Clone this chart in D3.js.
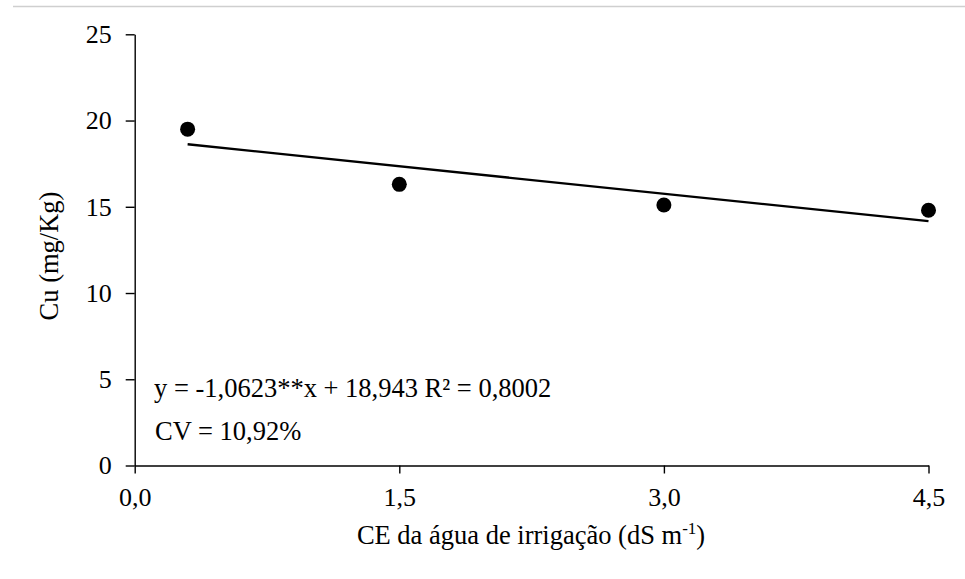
<!DOCTYPE html>
<html><head><meta charset="utf-8">
<script src="https://cdn.jsdelivr.net/npm/d3@7"></script>
<style>body{margin:0;background:#fff}svg{display:block}</style>
</head><body>
<svg id="c" width="965" height="579"></svg>
<script>
const xValues = [0.3, 1.5, 3.0, 4.5];
const cuValues = [19.5, 16.3, 15.1, 14.8];
const xTicks = [0, 1.5, 3.0, 4.5];
const yTicks = [0, 5, 10, 15, 20, 25];
const slope = -1.0623, intercept = 18.943;
const eqText = "y = -1,0623**x + 18,943 R² = 0,8002";
const cvText = "CV = 10,92%";
const FONT = "Liberation Serif";

const svg = d3.select("#c");
svg.append("line").attr("x1",13).attr("x2",965).attr("y1",6.5).attr("y2",6.5).attr("stroke","#cfcfcf").attr("stroke-width",1.5);

const x = d3.scaleLinear().domain([0,4.5]).range([134.7,928.5]);
const y = d3.scaleLinear().domain([0,25]).range([465.5,34.3]);
const fmt = d => d.toFixed(1).replace(".",",");

const gx = svg.append("g").attr("transform","translate(0,465.5)")
  .call(d3.axisBottom(x).tickValues(xTicks).tickFormat(fmt).tickSize(8).tickSizeOuter(0).tickPadding(14));
const gy = svg.append("g").attr("transform","translate(134.7,0)")
  .call(d3.axisLeft(y).tickValues(yTicks).tickSize(9).tickSizeOuter(0).tickPadding(14));
[gx,gy].forEach(g=>{
  g.attr("font-family",FONT).attr("font-size",26);
  g.select(".domain").attr("stroke","#000").attr("stroke-width",1.4);
  g.selectAll(".tick line").attr("stroke","#000").attr("stroke-width",1.4);
  g.selectAll(".tick text").attr("fill","#000");
});

svg.append("line")
  .attr("x1",x(xValues[0])).attr("y1",y(slope*xValues[0]+intercept))
  .attr("x2",x(xValues[xValues.length-1])).attr("y2",y(slope*xValues[xValues.length-1]+intercept))
  .attr("stroke","#000").attr("stroke-width",2.3);

svg.selectAll("circle.p").data(xValues).enter().append("circle").attr("class","p")
  .attr("cx",d=>x(d)).attr("cy",(d,i)=>y(cuValues[i])).attr("r",7.5).attr("fill","#000");

svg.append("text").attr("x",154).attr("y",397).attr("font-family",FONT).attr("font-size",26.5).text(eqText);
svg.append("text").attr("x",155).attr("y",440).attr("font-family",FONT).attr("font-size",26.5).text(cvText);

const xt = svg.append("text").attr("x",531).attr("y",544).attr("text-anchor","middle")
  .attr("font-family",FONT).attr("font-size",26.5);
xt.append("tspan").text("CE da água de irrigação (dS m");
xt.append("tspan").attr("dy",-10).attr("font-size",17).text("-1");
xt.append("tspan").attr("dy",10).text(")");

svg.append("text").attr("transform","translate(58,256) rotate(-90)").attr("text-anchor","middle")
  .attr("font-family",FONT).attr("font-size",26.5).text("Cu (mg/Kg)");
</script>
</body></html>
